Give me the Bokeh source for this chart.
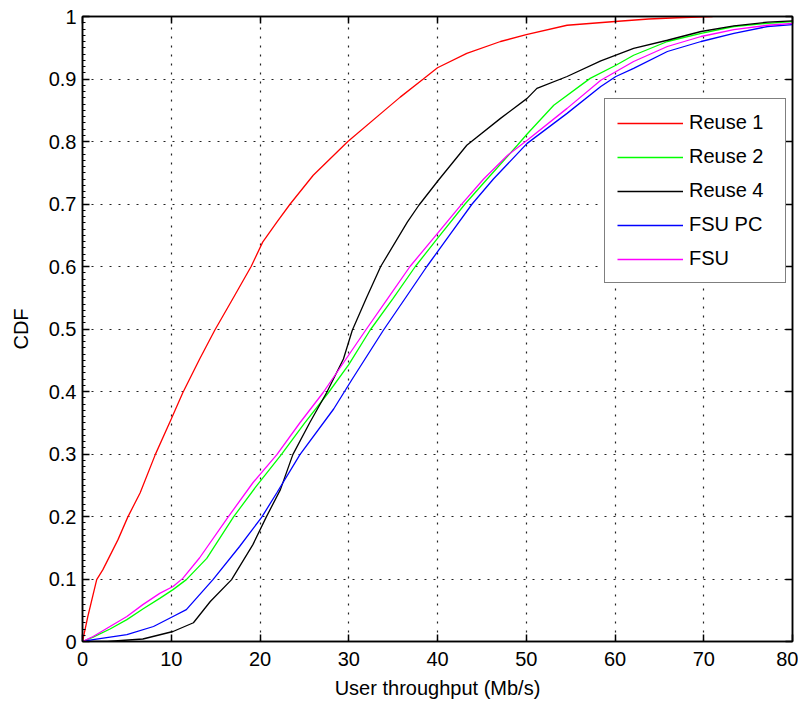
from bokeh.plotting import figure
from bokeh.models import Range1d, FixedTicker, LinearAxis, Legend, LegendItem
from bokeh.embed import file_html
from bokeh.resources import INLINE

# ---- data ----
reuse1_x = [0, 0.6, 1.6, 2.3, 4.0, 5.1, 6.5, 8.2, 10.0, 11.3, 13.2, 14.9, 17.0, 19.0, 20.3, 21.9, 23.4, 26.0,
            29.9, 34.3, 35.8, 38.4, 40.0, 43.3, 47.1, 50.0, 54.6, 60.0, 63.8, 67.0, 71.0]
reuse1_y = [0, 0.04, 0.099, 0.115, 0.163, 0.199, 0.238, 0.299, 0.356, 0.398, 0.452, 0.498, 0.550, 0.600,
            0.639, 0.671, 0.700, 0.746, 0.800, 0.853, 0.871, 0.900, 0.918, 0.941, 0.960, 0.971, 0.986, 0.992,
            0.996, 0.998, 1.0]

reuse2_x = [0, 1.2, 3.1, 5.0, 6.8, 8.7, 10.2, 11.7, 14.0, 17.0, 19.5, 22.4, 25.0, 27.7, 30.0, 32.4, 35.0,
            37.5, 40.0, 43.1, 45.6, 49.0, 50.1, 53.1, 57.2, 60.1, 62.1, 65.9, 69.7, 73.4, 77.2, 80.0]
reuse2_y = [0, 0.007, 0.020, 0.035, 0.052, 0.069, 0.083, 0.099, 0.133, 0.199, 0.247, 0.299, 0.349, 0.398,
            0.443, 0.498, 0.549, 0.600, 0.645, 0.700, 0.740, 0.794, 0.812, 0.858, 0.901, 0.922, 0.938,
            0.960, 0.973, 0.984, 0.989, 0.992]

reuse4_x = [0, 2.8, 6.8, 10.2, 12.5, 14.4, 16.8, 19.2, 20.7, 22.3, 23.7, 25.6, 27.5, 29.4, 30.4,
            32.0, 33.6, 36.6, 37.9, 40.1, 43.3, 47.1, 50.1, 51.2, 54.6, 58.4, 62.1, 65.9, 69.7, 73.4,
            77.2, 80.0]
reuse4_y = [0, 0, 0.004, 0.016, 0.030, 0.064, 0.099, 0.155, 0.199, 0.243, 0.299, 0.350, 0.398,
            0.452, 0.498, 0.550, 0.600, 0.671, 0.698, 0.738, 0.794, 0.837, 0.869, 0.885, 0.904, 0.929,
            0.949, 0.962, 0.976, 0.985, 0.991, 0.993]

fsupc_x = [0, 1.2, 5.0, 8.0, 10.2, 11.7, 14.7, 17.7, 20.2, 21.9, 24.5, 28.3, 30.4, 33.9, 36.5, 38.8,
           41.5, 43.9, 46.3, 50.1, 54.6, 58.4, 60.1, 62.1, 65.9, 69.7, 73.4, 77.2, 80.0]
fsupc_y = [0, 0.003, 0.011, 0.024, 0.040, 0.051, 0.099, 0.152, 0.199, 0.238, 0.299, 0.372, 0.420, 0.498,
           0.552, 0.600, 0.653, 0.700, 0.740, 0.797, 0.845, 0.888, 0.904, 0.917, 0.944, 0.960, 0.973,
           0.984, 0.987]

fsu_x = [0, 1.2, 3.1, 5.0, 6.8, 8.7, 10.2, 11.3, 13.2, 16.4, 19.2, 21.9, 24.5, 27.1, 29.5, 31.9, 34.5,
         36.9, 40.0, 42.8, 45.2, 47.9, 50.1, 54.6, 58.4, 62.1, 65.9, 69.7, 73.4, 77.2, 80.0]
fsu_y = [0, 0.008, 0.024, 0.040, 0.059, 0.077, 0.088, 0.101, 0.134, 0.199, 0.254, 0.299, 0.350, 0.398,
         0.448, 0.498, 0.551, 0.600, 0.653, 0.701, 0.740, 0.778, 0.802, 0.853, 0.898, 0.928, 0.952,
         0.968, 0.979, 0.986, 0.989]

series_names = ["Reuse 1", "Reuse 2", "Reuse 4", "FSU PC", "FSU"]
series_colors = ["#ff0000", "#00ff00", "#000000", "#0000ff", "#ff00ff"]

x_ticks = [0, 10, 20, 30, 40, 50, 60, 70, 80]
y_ticks = [0, 0.1, 0.2, 0.3, 0.4, 0.5, 0.6, 0.7, 0.8, 0.9, 1.0]
y_tick_labels = ["0", "0.1", "0.2", "0.3", "0.4", "0.5", "0.6", "0.7", "0.8", "0.9", "1"]
y_minor = [i / 100 for i in range(101)]

x_label = "User throughput (Mb/s)"
y_label = "CDF"

FONT = "Liberation Sans"
FS = "20px"

p = figure(frame_width=710, frame_height=625,
           x_range=Range1d(0, 80), y_range=Range1d(0, 1),
           output_backend="svg", toolbar_location=None,
           min_border_left=82, min_border_top=16, min_border_right=6, min_border_bottom=10,
           background_fill_color="white", border_fill_color="white",
           x_axis_label=x_label, y_axis_label=y_label)

p.outline_line_color = "black"
p.outline_line_width = 1.5

xt = FixedTicker(ticks=x_ticks)
yt = FixedTicker(ticks=y_ticks, minor_ticks=y_minor)
yt_nominor = FixedTicker(ticks=y_ticks)

for ax in p.xaxis:
    ax.ticker = xt
for ax in p.yaxis:
    ax.ticker = yt
    ax.major_label_overrides = {t: l for t, l in zip(y_ticks, y_tick_labels)}
    ax.minor_tick_in = 3
    ax.minor_tick_out = 0
    ax.minor_tick_line_color = "black"

for ax in p.xaxis + p.yaxis:
    ax.major_tick_in = 7
    ax.major_tick_out = 0
    ax.major_tick_line_width = 1.5
    ax.axis_line_width = 1.5
    ax.axis_line_color = "black"
    ax.major_label_text_font = FONT
    ax.major_label_text_font_size = FS
    ax.major_label_text_color = "black"
    ax.axis_label_text_font = FONT
    ax.axis_label_text_font_size = FS
    ax.axis_label_text_font_style = "normal"
    ax.axis_label_text_color = "black"
    ax.major_label_standoff = 6

p.xaxis.minor_tick_line_color = None
p.xaxis.major_label_standoff = 10
p.xaxis.axis_label_standoff = 8
p.yaxis.axis_label_standoff = 14

top = LinearAxis(ticker=xt, major_label_text_font_size="0px", major_label_text_color=None,
                 major_tick_in=7, major_tick_out=0,
                 minor_tick_line_color=None, major_label_standoff=0, axis_line_width=1.5,
                 major_tick_line_width=1.5)
right = LinearAxis(ticker=yt_nominor, major_label_text_font_size="0px", major_label_text_color=None,
                   major_tick_in=7, major_tick_out=0,
                   minor_tick_line_color=None, major_label_standoff=0, axis_line_width=1.5,
                   major_tick_line_width=1.5)
p.add_layout(top, "above")
p.add_layout(right, "right")

for g in (p.xgrid[0], p.ygrid[0]):
    g.grid_line_color = "#222222"
    g.grid_line_dash = "2 7"
    g.grid_line_width = 1.2
p.ygrid[0].ticker = yt_nominor

data = [(reuse1_x, reuse1_y), (reuse2_x, reuse2_y), (reuse4_x, reuse4_y), (fsupc_x, fsupc_y), (fsu_x, fsu_y)]
items = []
for (xs, ys), name, col in zip(data, series_names, series_colors):
    r = p.line(xs, ys, line_color=col, line_width=1.3)
    items.append(LegendItem(label=name, renderers=[r]))

legend = Legend(items=items, location=(522, 358),
                label_text_font=FONT, label_text_font_size=FS, label_text_color="black",
                glyph_width=66, glyph_height=20, label_height=20, label_width=84, spacing=11, padding=12,
                label_standoff=6, border_line_color="black", border_line_width=1.5,
                background_fill_color="white", background_fill_alpha=1.0, margin=0)
p.add_layout(legend)

open("out.html", "w").write(file_html(p, INLINE))
